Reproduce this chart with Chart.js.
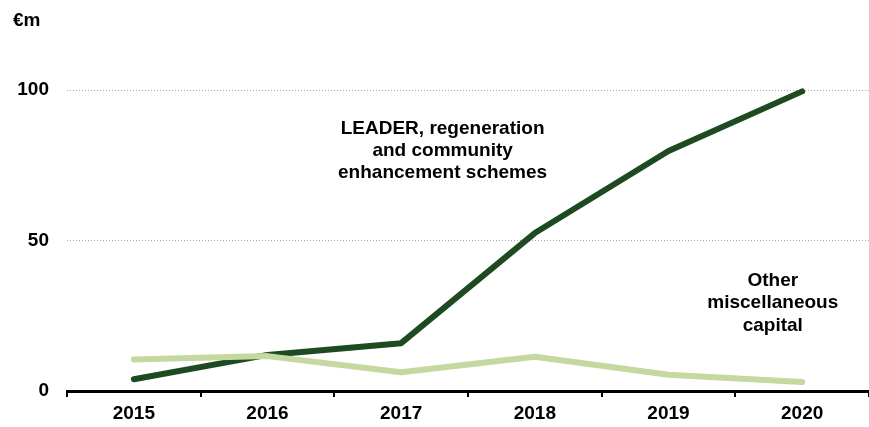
<!DOCTYPE html>
<html>
<head>
<meta charset="utf-8">
<script src="https://cdn.jsdelivr.net/npm/chart.js@4"></script>
<style>
  html, body { margin: 0; padding: 0; background: #ffffff; }
  #wrap { width: 869px; height: 427px; position: relative; }
</style>
</head>
<body>
<div id="wrap"><canvas id="c" width="869" height="427"></canvas></div>
<script>
// Capital spending by year, €m
const years = ['2015', '2016', '2017', '2018', '2019', '2020'];
const leaderValues = [3.9, 12.0, 15.9, 52.5, 79.8, 99.6];
const otherValues = [10.5, 11.6, 6.2, 11.4, 5.4, 3.0];
const yTicks = [0, 50, 100];
const unitLabel = '€m';
const leaderLabel = ['LEADER, regeneration', 'and community', 'enhancement schemes'];
const otherLabel = ['Other', 'miscellaneous', 'capital'];

const DARK = '#1d4a20';
const LIGHT = '#c4d8a0';
const FONT = '"Liberation Sans", Arial, sans-serif';

// Writes the unit and the two series captions on top of the plot
const captions = {
  id: 'captions',
  afterDraw(chart) {
    const ctx = chart.ctx;
    const x = chart.scales.x, y = chart.scales.y;
    ctx.save();
    ctx.fillStyle = '#000';
    ctx.font = 'bold 19px ' + FONT;
    ctx.textBaseline = 'middle';
    ctx.textAlign = 'left';
    ctx.fillText(unitLabel, 13, 21);
    ctx.textAlign = 'center';
    const drawBlock = (lines, cx, cy, gap) => {
      lines.forEach((t, i) => ctx.fillText(t, cx, cy + i * gap));
    };
    drawBlock(leaderLabel, x.getPixelForValue(2.31), y.getPixelForValue(87.3), 22.2);
    drawBlock(otherLabel, x.getPixelForValue(4.78), y.getPixelForValue(36.8), 22.5);
    ctx.restore();
  }
};

new Chart(document.getElementById('c'), {
  type: 'line',
  data: {
    labels: years,
    datasets: [
      {
        label: 'Other miscellaneous capital',
        data: otherValues,
        borderColor: LIGHT,
        borderWidth: 6,
        pointRadius: 0,
        borderCapStyle: 'round',
        borderJoinStyle: 'round',
        tension: 0
      },
      {
        label: 'LEADER, regeneration and community enhancement schemes',
        data: leaderValues,
        borderColor: DARK,
        borderWidth: 6,
        pointRadius: 0,
        borderCapStyle: 'round',
        borderJoinStyle: 'round',
        tension: 0
      }
    ]
  },
  options: {
    responsive: false,
    animation: false,
    devicePixelRatio: 1,
    layout: { padding: { top: 30, right: 0, bottom: 0, left: 0 } },
    plugins: {
      legend: { display: false },
      tooltip: { enabled: false }
    },
    scales: {
      x: {
        offset: true,
        afterFit(scale) { scale.height = 36; },
        grid: {
          offset: true,
          drawOnChartArea: false,
          drawTicks: true,
          tickLength: 6,
          color: '#000',
          lineWidth: 2
        },
        border: { display: true, color: '#000', width: 3 },
        ticks: {
          color: '#000',
          font: { family: FONT, size: 19, weight: 'bold' },
          padding: 5,
          maxRotation: 0
        }
      },
      y: {
        min: 0,
        max: 120,
        afterBuildTicks(scale) {
          scale.ticks = yTicks.map(v => ({ value: v }));
        },
        afterFit(scale) { scale.width = 67; },
        grid: {
          drawTicks: false,
          color: ctx => ctx.tick && ctx.tick.value === 0 ? 'rgba(0,0,0,0)' : '#a8a8a8',
          lineWidth: 1
        },
        // dotted grid lines
        border: { display: false, dash: [1, 2] },
        ticks: {
          color: '#000',
          font: { family: FONT, size: 19, weight: 'bold' },
          padding: 18
        }
      }
    }
  },
  plugins: [captions]
});
</script>
</body>
</html>
